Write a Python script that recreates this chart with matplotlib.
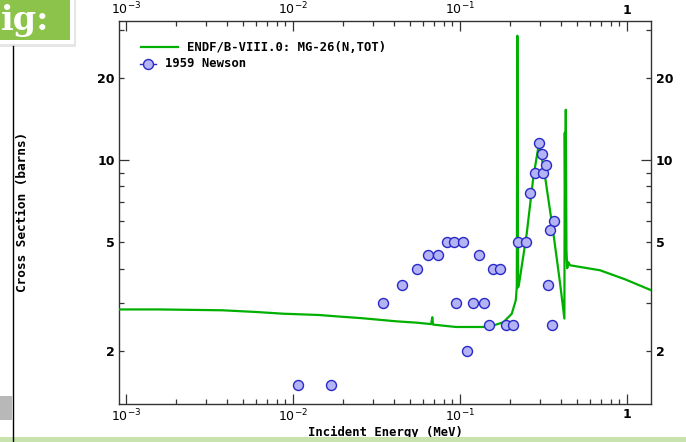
import numpy as np
import matplotlib
matplotlib.use("Agg")
import matplotlib.pyplot as plt
from matplotlib.ticker import FixedLocator, FuncFormatter, NullFormatter
from matplotlib.patches import Rectangle

# ENDF/B-VIII.0 Mg-26 total cross section
endf_e = [9.08e-4, 1.578e-3, 3.76e-3, 6.0e-3, 8.7e-3, 0.01432, 0.0181, 0.02552,
          0.03141, 0.04138, 0.0553, 0.0671, 0.0682, 0.0689, 0.0946, 0.1374,
          0.1513, 0.1817, 0.204, 0.2156, 0.2186, 0.2203, 0.2225, 0.2256,
          0.2507, 0.2748, 0.2972, 0.3228, 0.3621, 0.3972, 0.4213, 0.4235,
          0.426, 0.4296, 0.4335, 0.438, 0.4445, 0.4557, 0.689, 0.973, 1.392]
endf_xs = [2.83, 2.83, 2.81, 2.77, 2.73, 2.70, 2.67, 2.63,
           2.60, 2.56, 2.53, 2.50, 2.65, 2.49, 2.44, 2.44,
           2.45, 2.54, 2.73, 3.06, 3.42, 28.6, 3.41, 3.52,
           5.38, 8.68, 11.58, 8.68, 5.38, 3.52, 2.62, 12.6,
           7.13, 15.3, 4.67, 4.01, 4.22, 4.11, 3.94, 3.65, 3.33]

# 1959 Newson measurements
newson_e = [0.01076, 0.01682, 0.03474, 0.04477, 0.05504, 0.0641, 0.0741, 0.0839,
            0.0921, 0.1046, 0.0946, 0.1097, 0.1191, 0.1299, 0.1392, 0.1497,
            0.1583, 0.1736, 0.1878, 0.2085, 0.2234, 0.2485, 0.2625, 0.2812,
            0.3154, 0.2985, 0.3085, 0.3273, 0.3656, 0.3458, 0.3351, 0.3556]
newson_xs = [1.49, 1.49, 3.0, 3.49, 3.97, 4.5, 4.5, 5.0,
             5.0, 5.0, 3.0, 2.0, 3.0, 4.5, 3.0, 2.49,
             3.97, 3.97, 2.49, 2.49, 5.0, 5.0, 7.54, 8.98,
             8.98, 11.52, 10.52, 9.56, 5.98, 5.53, 3.49, 2.49]

x_major = [1e-3, 1e-2, 1e-1, 1.0]
x_labels = [r"$10^{-3}$", r"$10^{-2}$", r"$10^{-1}$", "1"]
y_minor = [2, 3, 4, 5, 6, 7, 8, 9, 20, 30]
y_labeled = [2, 5, 20]

GREEN = "#00b000"
MONO = "DejaVu Sans Mono"

fig = plt.figure(figsize=(6.86, 4.42), dpi=100)
ax = fig.add_axes([0.1735, 0.0871, 0.9497 - 0.1735, 0.9525 - 0.0871])

ax.plot(endf_e, endf_xs, color=GREEN, lw=1.6, zorder=3)
ax.plot(newson_e, newson_xs, ls="none", marker="o", ms=7.2,
        mfc="#b4b4f4", mec="#2828c8", mew=1.0, zorder=4)

ax.set_xscale("log")
ax.set_yscale("log")
ax.set_xlim(9.08e-4, 1.40)
ax.set_ylim(1.278, 32.4)

# x ticks, top and bottom
ax.xaxis.set_major_locator(FixedLocator(x_major))
ax.xaxis.set_major_formatter(FuncFormatter(lambda v, p: x_labels[p] if p is not None and p < len(x_labels) else ""))
x_minor = [m * d for d in [1e-3, 1e-2, 1e-1, 1.0] for m in range(2, 10)]
ax.xaxis.set_minor_locator(FixedLocator(x_minor))
ax.xaxis.set_minor_formatter(NullFormatter())

# y ticks, left and right
ax.yaxis.set_major_locator(FixedLocator([10]))
ax.yaxis.set_major_formatter(FuncFormatter(lambda v, p: "10"))
ax.yaxis.set_minor_locator(FixedLocator(y_minor))
ax.yaxis.set_minor_formatter(FuncFormatter(lambda v, p: f"{v:g}" if v in y_labeled else ""))

ax.tick_params(which="both", direction="in", top=True, right=True,
               labeltop=True, labelright=True, color="#333333",
               labelsize=9, width=0.9, pad=3)
ax.tick_params(which="major", length=7)
ax.tick_params(which="minor", length=3.5)
for lab in ax.get_xticklabels() + ax.get_yticklabels():
    lab.set_fontweight("bold")
for lab in ax.yaxis.get_minorticklabels():
    lab.set_fontweight("bold")

for s in ax.spines.values():
    s.set_color("#333333")
    s.set_linewidth(1.0)

ax.set_xlabel("Incident Energy (MeV)", family=MONO, fontweight="bold",
              fontsize=8.8, labelpad=1)
ax.set_ylabel("Cross Section (barns)", family=MONO, fontweight="bold",
              fontsize=9.2, labelpad=49)

# legend drawn by hand to keep the two handle styles
ax.plot([0.042, 0.110], [0.932, 0.932], transform=ax.transAxes, color=GREEN, lw=1.6)
ax.text(0.128, 0.932, "ENDF/B-VIII.0: MG-26(N,TOT)", transform=ax.transAxes,
        family=MONO, fontweight="bold", fontsize=8.8, va="center")
ax.plot([0.040, 0.070], [0.888, 0.888], transform=ax.transAxes, color="#2828c8", lw=1.0)
ax.plot([0.055], [0.888], transform=ax.transAxes, marker="o", ms=7.2,
        mfc="#b4b4f4", mec="#2828c8", mew=1.0, ls="none")
ax.text(0.086, 0.888, "1959 Newson", transform=ax.transAxes,
        family=MONO, fontweight="bold", fontsize=8.8, va="center")

# screenshot surroundings
W, H = 686, 442
fig.patches.append(Rectangle((0, 1 - 47 / H), 76 / W, 47 / H, transform=fig.transFigure,
                             facecolor="#e6e6e6", edgecolor="none", zorder=1))
fig.patches.append(Rectangle((0, 1 - 44 / H), 74 / W, 44 / H, transform=fig.transFigure,
                             facecolor="white", edgecolor="none", zorder=2))
fig.patches.append(Rectangle((0, 1 - 40 / H), 70 / W, 40 / H, transform=fig.transFigure,
                             facecolor="#8cc34b", edgecolor="none", zorder=3))
fig.text(1 / W, 1 - 30 / H, "ig:", color="white", fontsize=24, family="DejaVu Serif",
         fontweight="bold", zorder=4)
fig.add_artist(plt.Line2D([12.5 / W, 12.5 / W], [0, 1 - 46 / H], color="black", lw=1.0))
fig.patches.append(Rectangle((0, 1 - 420 / H), 12 / W, 24 / H, transform=fig.transFigure,
                             facecolor="#b8b8b8", edgecolor="none"))
fig.patches.append(Rectangle((0, 0), 1, 5 / H, transform=fig.transFigure,
                             facecolor="#c8e3ae", edgecolor="none"))

fig.savefig("out.png", dpi=100)
